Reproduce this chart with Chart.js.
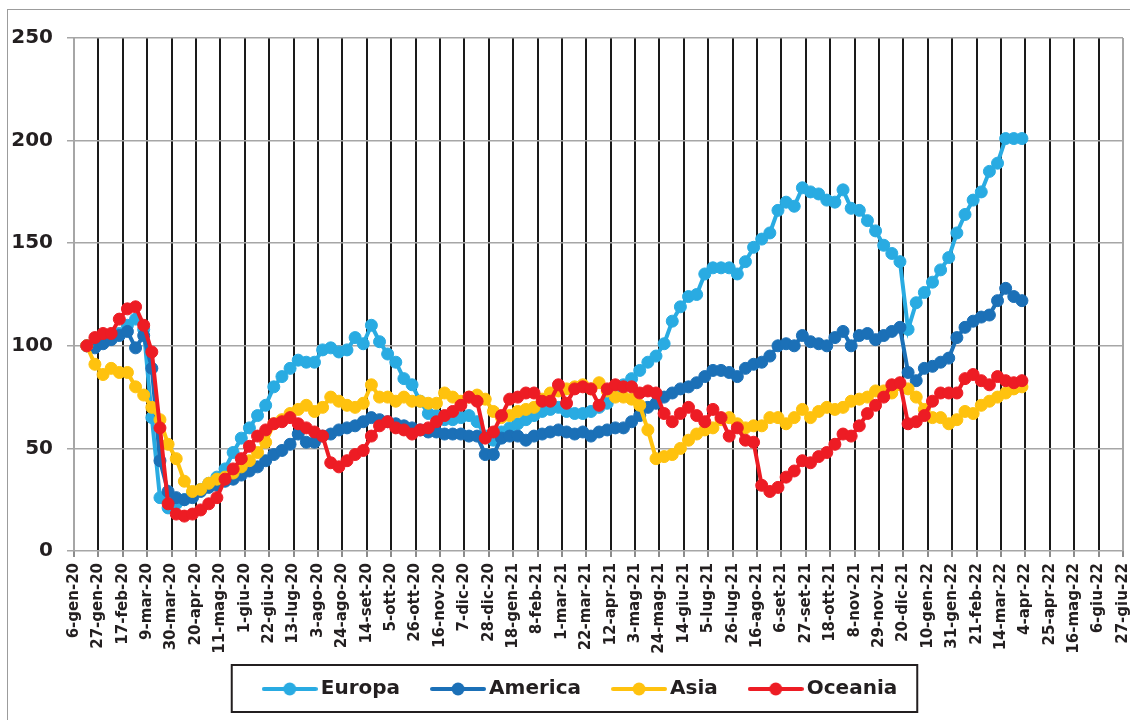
<!DOCTYPE html>
<html>
<head>
<meta charset="utf-8">
<script src="https://cdn.jsdelivr.net/npm/chart.js@4.4.1/dist/chart.umd.min.js"></script>
<style>
  html, body { margin: 0; padding: 0; background: #fff; }
  #wrap { position: relative; width: 1130px; height: 720px; overflow: hidden; }
  #frame { position: absolute; left: 7px; top: 9px; width: 1140px; height: 730px;
           border-left: 1.5px solid #9c9c9c; border-top: 1.5px solid #9c9c9c; }
  canvas { position: absolute; left: 0; top: 0; }
</style>
</head>
<body>
<div id="wrap">
  <div id="frame"></div>
  <canvas id="chart" width="1130" height="720"></canvas>
</div>
<script>
// x-axis labels, one every 3 weeks starting 6-gen-20
const tickLabels = [
  "6-gen-20", "27-gen-20", "17-feb-20", "9-mar-20", "30-mar-20", "20-apr-20", "11-mag-20",
  "1-giu-20", "22-giu-20", "13-lug-20", "3-ago-20", "24-ago-20", "14-set-20", "5-ott-20",
  "26-ott-20", "16-nov-20", "7-dic-20", "28-dic-20", "18-gen-21", "8-feb-21", "1-mar-21",
  "22-mar-21", "12-apr-21", "3-mag-21", "24-mag-21", "14-giu-21", "5-lug-21", "26-lug-21",
  "16-ago-21", "6-set-21", "27-set-21", "18-ott-21", "8-nov-21", "29-nov-21", "20-dic-21",
  "10-gen-22", "31-gen-22", "21-feb-22", "14-mar-22", "4-apr-22", "25-apr-22", "16-mag-22",
  "6-giu-22", "27-giu-22"
];
const yTicks = [0, 50, 100, 150, 200, 250];

// weekly index values (base 100), first week 17-gen-20
const europa = [
  100, 101, 103, 104, 106, 110, 113, 108, 65, 26, 21, 23, 25, 28, 30, 33, 36, 40, 48, 55,
  60, 66, 71, 80, 85, 89, 93, 92, 92, 98, 99, 97, 98, 104, 101, 110, 102, 96, 92, 84,
  81, 73, 67, 66, 64, 64, 65, 66, 63, 56, 54, 58, 60, 62, 64, 66, 68, 69, 70, 68,
  67, 67, 68, 70, 72, 77, 81, 84, 88, 92, 95, 101, 112, 119, 124, 125, 135, 138, 138, 138,
  135, 141, 148, 152, 155, 166, 170, 168, 177, 175, 174, 171, 170, 176, 167, 166, 161, 156, 149, 145,
  141, 108, 121, 126, 131, 137, 143, 155, 164, 171, 175, 185, 189, 201, 201, 201
];
const america = [
  100, 99, 101, 103, 105, 107, 99, 105, 89, 44, 29, 26, 25, 26, 29, 31, 32, 34, 35, 37,
  39, 41, 44, 47, 49, 52, 57, 53, 53, 56, 57, 59, 60, 61, 63, 65, 64, 63, 62, 61,
  60, 59, 58, 58, 57, 57, 57, 56, 56, 47, 47, 55, 56, 56, 54, 56, 57, 58, 59, 58,
  57, 58, 56, 58, 59, 60, 60, 63, 66, 70, 72, 75, 77, 79, 80, 82, 85, 88, 88, 87,
  85, 89, 91, 92, 95, 100, 101, 100, 105, 102, 101, 100, 104, 107, 100, 105, 106, 103, 105, 107,
  109, 87, 83, 89, 90, 92, 94, 104, 109, 112, 114, 115, 122, 128, 124, 122
];
const asia = [
  100, 91, 86, 89, 87, 87, 80, 76, 70, 64, 52, 45, 34, 29, 30, 33, 35, 36, 38, 41,
  44, 48, 53, 62, 64, 67, 69, 71, 68, 70, 75, 73, 71, 70, 72, 81, 75, 75, 73, 75,
  73, 73, 72, 72, 77, 75, 73, 75, 76, 74, 68, 65, 66, 68, 69, 70, 74, 77, 78, 79,
  80, 81, 79, 82, 78, 75, 75, 74, 71, 59, 45, 46, 47, 50, 54, 57, 59, 60, 64, 65,
  62, 60, 61, 61, 65, 65, 62, 65, 69, 65, 68, 70, 69, 70, 73, 74, 75, 78, 78, 77,
  81, 79, 75, 69, 65, 65, 62, 64, 68, 67, 71, 73, 75, 77, 79, 80
];
const oceania = [
  100, 104, 106, 106, 113, 118, 119, 110, 97, 60, 23, 18, 17, 18, 20, 23, 26, 35, 40, 45,
  51, 56, 59, 62, 63, 65, 62, 60, 58, 56, 43, 41, 44, 47, 49, 56, 61, 63, 60, 59,
  57, 59, 60, 63, 66, 68, 71, 75, 73, 55, 58, 66, 74, 75, 77, 77, 73, 73, 81, 72,
  79, 80, 79, 71, 79, 81, 80, 80, 77, 78, 77, 67, 63, 67, 70, 66, 63, 69, 65, 56,
  60, 54, 53, 32, 29, 31, 36, 39, 44, 43, 46, 48, 52, 57, 56, 61, 67, 71, 75, 81,
  82, 62, 63, 66, 73, 77, 77, 77, 84, 86, 83, 81, 85, 83, 82, 83
];

const axisStart = Date.UTC(2020, 0, 6);
const firstWeek = Date.UTC(2020, 0, 17);
const dayMs = 864e5;
const weekDays = europa.map((v, i) => (firstWeek - axisStart) / dayMs + 7 * i);
const pts = values => values.map((v, i) => ({ x: weekDays[i], y: v }));

const FONT = "'DejaVu Sans', sans-serif";
const INK = "#231f20";
const LEGEND_FONT = { family: FONT, weight: "bold", size: 20 };
const MARK_W = 42;   // legend box width given to the marker
const ITEM_GAP = 37; // legend padding between items

function legendMarker(color) {
  const c = document.createElement("canvas");
  c.width = 56; c.height = 16;
  const g = c.getContext("2d");
  g.strokeStyle = color; g.lineWidth = 4; g.lineCap = "round";
  g.beginPath(); g.moveTo(2, 8); g.lineTo(54, 8); g.stroke();
  g.fillStyle = color;
  g.beginPath(); g.arc(28, 8, 6.5, 0, Math.PI * 2); g.fill();
  return c;
}

function series(label, values, color) {
  return {
    label: label,
    data: pts(values),
    borderColor: color,
    backgroundColor: color,
    borderWidth: 4,
    pointRadius: 6,
    pointBorderWidth: 1,
    pointBackgroundColor: color,
    pointBorderColor: color,
    tension: 0,
    marker: legendMarker(color)
  };
}

// box round the legend, from the first hit box to the end of the last text
const legendFrame = {
  id: "legendFrame",
  afterDraw(chart) {
    const boxes = chart.legend.legendHitBoxes;
    if (!boxes || !boxes.length) return;
    const last = boxes[boxes.length - 1];
    const ctx = chart.ctx;
    const left = boxes[0].left - 7 - 30;
    const right = last.left + last.width + 20;
    const top = boxes[0].top - 14;
    ctx.save();
    ctx.strokeStyle = INK;
    ctx.lineWidth = 2;
    ctx.strokeRect(left, top, right - left, 47);
    ctx.restore();
  }
};

const lastTick = tickLabels.length - 1;
const noLabelClip = s => { s._computeLabelArea = () => null; };

new Chart(document.getElementById("chart").getContext("2d"), {
  type: "line",
  data: {
    datasets: [
      series("Europa", europa, "#29abe2"),
      series("America", america, "#1b70b7"),
      series("Asia", asia, "#ffc20e"),
      series("Oceania", oceania, "#ed1c24")
    ].map((d, i, all) => Object.assign(d, { order: all.length - i }))
  },
  options: {
    responsive: false,
    animation: false,
    layout: { padding: { top: 38, right: 2, bottom: 11, left: 38 } },
    scales: {
      x: {
        type: "linear",
        min: 0,
        max: 21 * lastTick,
        afterBuildTicks: s => { s.ticks = tickLabels.map((t, i) => ({ value: 21 * i })); },
        afterFit: s => { s.height = 91; s.paddingLeft = 0; s.paddingRight = 0; noLabelClip(s); },
        border: { display: false },
        grid: {
          color: c => (c.index === 0 || c.index === lastTick) ? "#a6a6a6" : "#1a1a1a",
          lineWidth: 2,
          tickColor: "#8c8c8c",
          tickLength: 6
        },
        ticks: {
          autoSkip: false,
          minRotation: 90,
          maxRotation: 90,
          padding: 6,
          color: INK,
          font: { family: FONT, weight: "bold", size: 15 },
          callback: v => tickLabels[Math.round(v / 21)]
        }
      },
      y: {
        min: 0,
        max: 250,
        afterBuildTicks: s => { s.ticks = yTicks.map(v => ({ value: v })); },
        afterFit: s => { s.width = 36; noLabelClip(s); },
        border: { display: false },
        grid: { color: "#a6a6a6", lineWidth: 1.5, tickLength: 7 },
        ticks: {
          padding: 14,
          color: INK,
          font: { family: FONT, weight: "bold", size: 20 }
        }
      }
    },
    plugins: {
      tooltip: { enabled: false },
      legend: {
        position: "bottom",
        labels: {
          usePointStyle: true,
          pointStyleWidth: MARK_W,
          padding: ITEM_GAP,
          color: INK,
          font: LEGEND_FONT,
          sort: (a, b) => a.datasetIndex - b.datasetIndex,
          generateLabels: chart => Chart.defaults.plugins.legend.labels.generateLabels(chart)
            .map(item => Object.assign(item, { pointStyle: chart.data.datasets[item.datasetIndex].marker }))
        }
      }
    }
  },
  plugins: [legendFrame]
});
</script>
</body>
</html>
